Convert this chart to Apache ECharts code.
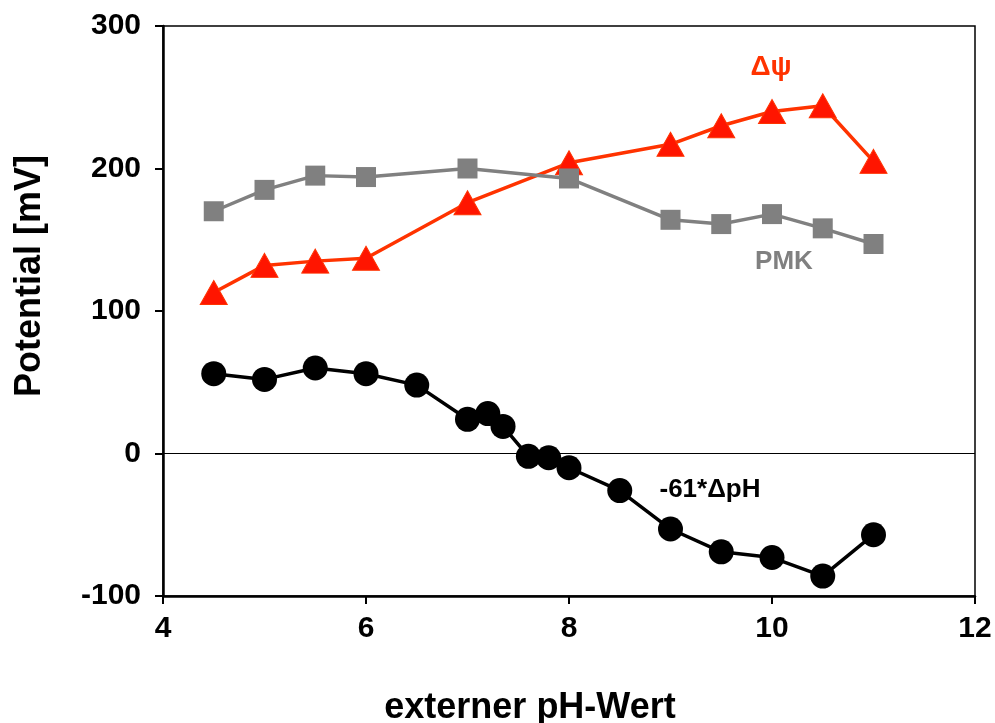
<!DOCTYPE html>
<html>
<head>
<meta charset="utf-8">
<script src="https://cdn.jsdelivr.net/npm/echarts@6/dist/echarts.min.js"></script>
<style>html,body{margin:0;padding:0;background:#fff}#c{width:995px;height:723px}</style>
</head>
<body>
<div id="c"></div>
<script>
// ---- data ----
var phPMK = [4.5, 5, 5.5, 6, 7, 8, 9, 9.5, 10, 10.5, 11];
var valPMK = [170, 185, 195, 194, 200, 193, 164, 161, 168, 158, 147];
var phPsi = [4.5, 5, 5.5, 6, 7, 8, 9, 9.5, 10, 10.5, 11];
var valPsi = [113, 132, 135, 137, 176, 204, 217, 230, 240, 244, 205];
var phDpH = [4.5, 5, 5.5, 6, 6.5, 7, 7.2, 7.35, 7.6, 7.8, 8, 8.5, 9, 9.5, 10, 10.5, 11];
var valDpH = [56, 52, 60, 56, 48, 24, 28, 19, -2, -3, -10, -26, -53, -69, -73, -86, -57];
var xTicks = [4, 6, 8, 10, 12];
var yTicks = [-100, 0, 100, 200, 300];
var xTitle = 'externer pH-Wert';
var yTitle = 'Potential [mV]';
var seriesNames = ['\u0394\u03C8', 'PMK', '-61*\u0394pH'];

function pairs(xs, ys) { return xs.map(function (x, i) { return [x, ys[i]]; }); }

var FONT = '"Liberation Sans", Arial, sans-serif';
var chart = echarts.init(document.getElementById('c'));
chart.setOption({
  animation: false,
  backgroundColor: '#fff',
  grid: { left: 163, right: 20, top: 26, bottom: 127, show: true, borderColor: '#000', borderWidth: 1.5, backgroundColor: 'transparent' },
  xAxis: {
    type: 'value', min: xTicks[0], max: xTicks[xTicks.length - 1], interval: 2,
    axisLine: { show: true, onZero: false, lineStyle: { color: '#000', width: 2.5 } },
    axisTick: { show: true, length: 8, inside: false, lineStyle: { color: '#000', width: 2 } },
    axisLabel: { color: '#000', fontFamily: FONT, fontWeight: 'bold', fontSize: 30, margin: 18 },
    splitLine: { show: false }
  },
  yAxis: {
    type: 'value', min: yTicks[0], max: yTicks[yTicks.length - 1], interval: 100,
    axisLine: { show: true, onZero: false, lineStyle: { color: '#000', width: 2.5 } },
    axisTick: { show: true, length: 8, inside: false, lineStyle: { color: '#000', width: 2 } },
    axisLabel: { color: '#000', fontFamily: FONT, fontWeight: 'bold', fontSize: 30, margin: 22 },
    splitLine: { show: false }
  },
  series: [
    {
      name: seriesNames[0], type: 'line', data: pairs(phPsi, valPsi),
      symbol: 'triangle', symbolSize: [27, 24],
      lineStyle: { color: '#FF3300', width: 3.5 },
      itemStyle: { color: '#FF1500', borderColor: '#FF3300', borderWidth: 1 },
      z: 3,
      markLine: {
        silent: true, symbol: 'none', label: { show: false },
        lineStyle: { color: '#000', width: 1.2, type: 'solid' },
        data: [{ yAxis: 0 }]
      }
    },
    {
      name: seriesNames[1], type: 'line', data: pairs(phPMK, valPMK),
      symbol: 'rect', symbolSize: 20,
      lineStyle: { color: '#808080', width: 3.5 },
      itemStyle: { color: '#808080' },
      z: 4
    },
    {
      name: seriesNames[2], type: 'line', data: pairs(phDpH, valDpH),
      symbol: 'circle', symbolSize: 25,
      lineStyle: { color: '#000', width: 3.5 },
      itemStyle: { color: '#000' },
      z: 5
    }
  ],
  graphic: [
    { type: 'text', x: 30, y: 276, rotation: Math.PI / 2,
      style: { text: yTitle, font: 'bold 36px ' + FONT, fill: '#000', textAlign: 'center', textVerticalAlign: 'middle' } },
    { type: 'text', x: 530, y: 708,
      style: { text: xTitle, font: 'bold 36px ' + FONT, fill: '#000', textAlign: 'center', textVerticalAlign: 'middle' } },
    { type: 'text', x: 771, y: 67,
      style: { text: seriesNames[0], font: 'bold 28px ' + FONT, fill: '#FF3300', textAlign: 'center', textVerticalAlign: 'middle' } },
    { type: 'text', x: 784, y: 262,
      style: { text: seriesNames[1], font: 'bold 26px ' + FONT, fill: '#808080', textAlign: 'center', textVerticalAlign: 'middle' } },
    { type: 'text', x: 710, y: 490,
      style: { text: seriesNames[2], font: 'bold 26px ' + FONT, fill: '#000', textAlign: 'center', textVerticalAlign: 'middle' } }
  ]
});
</script>
</body>
</html>
